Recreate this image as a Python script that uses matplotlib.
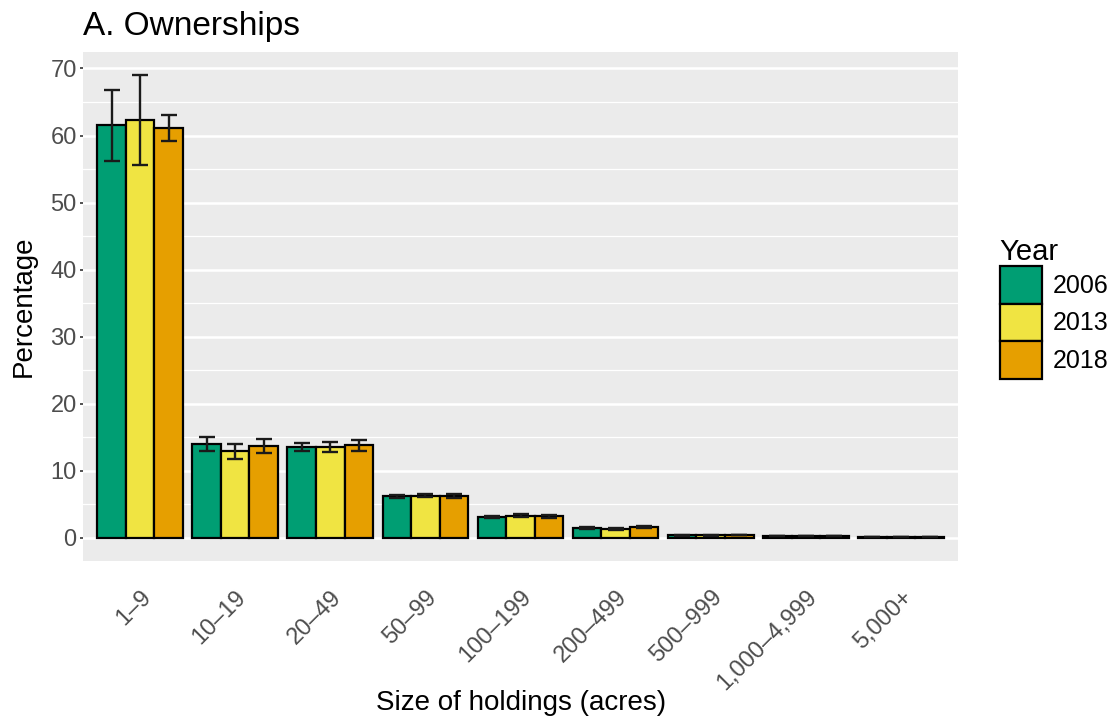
import matplotlib
matplotlib.use("Agg")
import matplotlib.pyplot as plt
from matplotlib.patches import Patch
from matplotlib.ticker import MultipleLocator
import numpy as np

plt.rcParams['font.family'] = ['Liberation Sans', 'DejaVu Sans']

sizes = ['1\u20139', '10\u201319', '20\u201349', '50\u201399', '100\u2013199',
         '200\u2013499', '500\u2013999', '1,000\u20134,999', '5,000+']
years = ['2006', '2013', '2018']
colors = ['#009E73', '#F0E442', '#E69F00']

pct_2006 = [61.5, 14.0, 13.5, 6.2, 3.1, 1.45, 0.4, 0.3, 0.1]
pct_2013 = [62.3, 12.9, 13.5, 6.3, 3.3, 1.35, 0.4, 0.3, 0.1]
pct_2018 = [61.1, 13.7, 13.8, 6.3, 3.2, 1.6, 0.45, 0.3, 0.1]
err_2006 = [5.3, 1.1, 0.6, 0.2, 0.2, 0.15, 0.05, 0.05, 0.02]
err_2013 = [6.7, 1.1, 0.75, 0.25, 0.2, 0.15, 0.05, 0.05, 0.02]
err_2018 = [1.9, 1.0, 0.85, 0.3, 0.2, 0.15, 0.05, 0.05, 0.02]

values = [pct_2006, pct_2013, pct_2018]
errors = [err_2006, err_2013, err_2018]

fig = plt.figure(figsize=(11.14, 7.23), dpi=100)
ax = fig.add_axes([0.0745, 0.224, 0.7855, 0.704])
ax.set_facecolor('#EBEBEB')

x = np.arange(1, len(sizes) + 1)
w = 0.3
for i, (vals, errs, col) in enumerate(zip(values, errors, colors)):
    xi = x + (i - 1) * w
    ax.bar(xi, vals, width=w, color=col, edgecolor='black', linewidth=1.6, zorder=3)
    ax.errorbar(xi, vals, yerr=errs, fmt='none', ecolor='#1a1a1a',
                elinewidth=1.7, capsize=6, capthick=1.7, zorder=4)

ax.set_xlim(0.4, 9.6)
ax.set_ylim(-3.45, 72.45)
ax.yaxis.set_major_locator(MultipleLocator(10))
ax.yaxis.set_minor_locator(MultipleLocator(5))
ax.grid(which='major', axis='y', color='white', linewidth=1.8, zorder=0)
ax.grid(which='minor', axis='y', color='white', linewidth=0.9, zorder=0)
ax.grid(which='major', axis='x', visible=False)
for s in ax.spines.values():
    s.set_visible(False)

ax.set_xticks(x)
ax.set_xticklabels(sizes, rotation=45, ha='right', va='top',
                   rotation_mode='anchor', fontsize=17, color='#4D4D4D')
ax.tick_params(axis='x', length=0, pad=18)
ax.tick_params(axis='y', which='major', length=2.5, width=1.2, color='#333333',
               pad=2, labelsize=17, labelcolor='#4D4D4D')
ax.tick_params(axis='y', which='minor', length=0)

ax.set_ylabel('Percentage', fontsize=20, labelpad=10)
fig.text(521 / 1114, 1 - 703 / 723, 'Size of holdings (acres)', fontsize=20,
         ha='center', va='center')
ax.set_title('A. Ownerships', loc='left', fontsize=24, pad=12)

handles = [Patch(facecolor=c, edgecolor='black', linewidth=1.6) for c in colors]
leg = fig.legend(handles, years, title='Year', loc='upper left',
                 bbox_to_anchor=(0.8885, 0.685), frameon=False, fontsize=18,
                 title_fontsize=21, handlelength=1.7, handleheight=1.95,
                 labelspacing=0.0, handletextpad=0.4, borderaxespad=0)
leg._legend_box.align = 'left'

fig.savefig('out.png', dpi=100)
